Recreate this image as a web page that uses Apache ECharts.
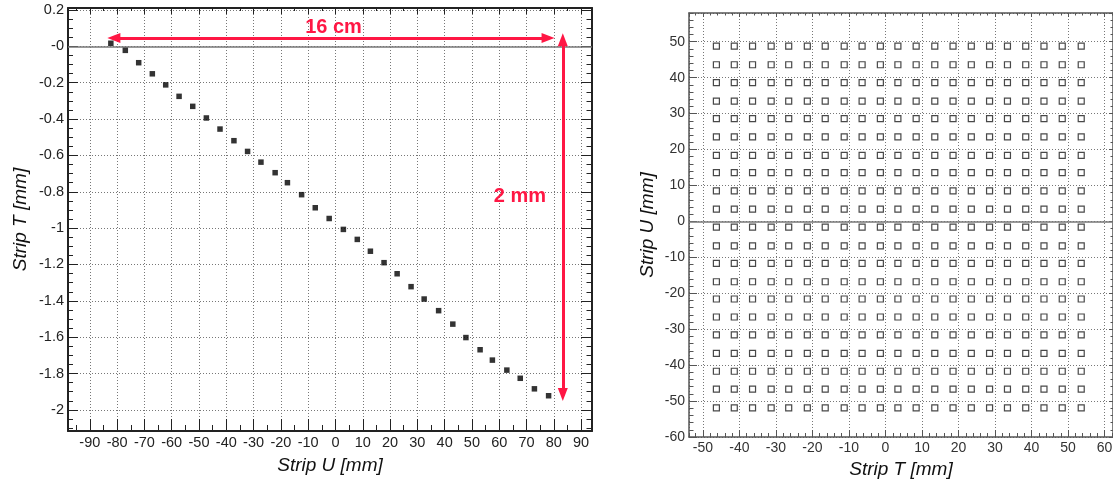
<!DOCTYPE html>
<html><head><meta charset="utf-8">
<script src="https://cdn.jsdelivr.net/npm/echarts@6/dist/echarts.min.js"></script>
<style>html,body{margin:0;padding:0;background:#fff}#c{width:1113px;height:480px}</style>
</head><body><div id="c"></div>
<script>
// ---- Left panel: Strip T vs Strip U (filled squares) ----
const stripU = [-82.3, -77.0, -72.1, -67.1, -62.2, -57.3, -52.3, -47.3, -42.3, -37.2, -32.2,
  -27.3, -22.1, -17.6, -12.4, -7.4, -2.3, 2.9, 8.0, 12.8, 17.8, 22.6, 27.7, 32.5, 37.8,
  43.0, 47.8, 53.0, 57.5, 62.8, 67.7, 72.9, 78.1];
const stripT = [0.017, -0.022, -0.090, -0.151, -0.212, -0.275, -0.330, -0.394, -0.455, -0.519, -0.578,
  -0.637, -0.695, -0.750, -0.816, -0.888, -0.947, -1.007, -1.062, -1.127, -1.190, -1.251, -1.322,
  -1.390, -1.454, -1.528, -1.602, -1.669, -1.726, -1.781, -1.826, -1.884, -1.922];

// ---- Right panel: grid of strip crossings (open squares) ----
const gridStripT = [-46.3, -41.4, -36.4, -31.3, -26.5, -21.4, -16.5, -11.3, -6.4, -1.4, 3.4,
  8.4, 13.5, 18.5, 23.5, 28.5, 33.4, 38.4, 43.4, 48.4, 53.6];
const gridStripU = [48.8, 43.6, 38.6, 33.5, 28.6, 23.5, 18.4, 13.6, 8.5, 3.4, -1.6,
  -6.8, -11.7, -16.8, -21.6, -26.6, -31.6, -36.7, -41.7, -46.7, -51.9];

const annotationTexts = ['16 cm', '2 mm'];
const axisTitles = { leftX: 'Strip U [mm]', leftY: 'Strip T [mm]', rightX: 'Strip T [mm]', rightY: 'Strip U [mm]' };

const FONT = "'Liberation Sans', Arial, Helvetica, sans-serif";
const RED = '#ff1744';

const leftPts = stripU.map((u, i) => [u, stripT[i]]);
const rightPts = [];
gridStripU.forEach(u => gridStripT.forEach(t => rightPts.push([t, u])));

function ax(p) {
  const a = {
    type: 'value', gridIndex: p.grid, position: p.pos, min: p.min, max: p.max,
    minInterval: p.step, maxInterval: p.step, splitNumber: 10,
    axisLine: { show: !!p.line, onZero: false, lineStyle: { color: p.color, width: p.lw || 1 } },
    axisTick: { show: true, inside: true, length: p.len, lineStyle: { color: p.color, width: 1 } },
    axisLabel: { show: false },
    splitLine: { show: false },
    minorTick: { show: false }, minorSplitLine: { show: false }
  };
  if (p.label) {
    a.axisLabel = Object.assign({ show: true, showMinLabel: false, showMaxLabel: false,
      fontFamily: FONT, color: '#222', hideOverlap: false }, p.label);
  }
  if (p.split) a.splitLine = { show: true, lineStyle: { color: '#777', width: 1, type: [1, 2] } };
  if (p.name) {
    a.name = p.name; a.nameLocation = 'middle'; a.nameGap = p.nameGap;
    a.nameTextStyle = { fontFamily: FONT, fontStyle: 'italic', fontSize: 19, color: '#111' };
  }
  return a;
}

const LC = '#222', RC = '#555';
const L = { xmin: -98, xmax: 94, ymin: -2.116, ymax: 0.211 };
const R = { xmin: -53.8, xmax: 62.3, ymin: -60, ymax: 58 };

const xAxes = [
  ax({ grid: 0, pos: 'bottom', min: L.xmin, max: L.xmax, step: 10, len: 12, color: LC, line: true, lw: 2, split: true,
       label: { fontSize: 14.5, margin: 4 }, name: axisTitles.leftX, nameGap: 25 }),
  ax({ grid: 0, pos: 'bottom', min: L.xmin, max: L.xmax, step: 5, len: 6, color: LC }),
  ax({ grid: 0, pos: 'top', min: L.xmin, max: L.xmax, step: 10, len: 6, color: LC, line: true, lw: 2 }),
  ax({ grid: 0, pos: 'top', min: L.xmin, max: L.xmax, step: 5, len: 3, color: LC }),
  ax({ grid: 1, pos: 'bottom', min: R.xmin, max: R.xmax, step: 10, len: 7, color: RC, line: true, lw: 1.5, split: true,
       label: { fontSize: 14, margin: 4, color: '#333' }, name: axisTitles.rightX, nameGap: 23 }),
  ax({ grid: 1, pos: 'bottom', min: R.xmin, max: R.xmax, step: 2, len: 4, color: RC }),
  ax({ grid: 1, pos: 'top', min: R.xmin, max: R.xmax, step: 10, len: 4, color: RC, line: true, lw: 1.5 }),
  ax({ grid: 1, pos: 'top', min: R.xmin, max: R.xmax, step: 2, len: 2.5, color: RC })
];
const yAxes = [
  ax({ grid: 0, pos: 'left', min: L.ymin, max: L.ymax, step: 0.2, len: 10, color: LC, line: true, lw: 2, split: true,
       label: { fontSize: 14.5, margin: 4, formatter: v => (Math.abs(v) < 1e-9 ? '-0' : String(v)) },
       name: axisTitles.leftY, nameGap: 38 }),
  ax({ grid: 0, pos: 'left', min: L.ymin, max: L.ymax, step: 0.05, len: 5, color: LC }),
  ax({ grid: 0, pos: 'right', min: L.ymin, max: L.ymax, step: 0.2, len: 11, color: LC, line: true, lw: 2 }),
  ax({ grid: 0, pos: 'right', min: L.ymin, max: L.ymax, step: 0.05, len: 5.5, color: LC }),
  ax({ grid: 1, pos: 'left', min: R.ymin, max: R.ymax, step: 10, len: 8, color: RC, line: true, lw: 1.5, split: true,
       label: { fontSize: 14, margin: 4, color: '#333', showMinLabel: true }, name: axisTitles.rightY, nameGap: 32 }),
  ax({ grid: 1, pos: 'left', min: R.ymin, max: R.ymax, step: 2, len: 4.5, color: RC }),
  ax({ grid: 1, pos: 'right', min: R.ymin, max: R.ymax, step: 10, len: 4, color: RC, line: true, lw: 1.5 }),
  ax({ grid: 1, pos: 'right', min: R.ymin, max: R.ymax, step: 2, len: 2.5, color: RC })
];

const zeroLine = (c) => ({ yAxis: 0, lineStyle: { color: c, type: 'solid', width: 1.5 } });
const tri = { symbol: 'triangle', symbolSize: [10, 13] };

const option = {
  animation: false,
  textStyle: { fontFamily: FONT },
  grid: [
    { left: 68, top: 8, width: 524, height: 423, containLabel: false, outerBoundsMode: 'none' },
    { left: 689, top: 13, width: 424, height: 424, containLabel: false, outerBoundsMode: 'none' }
  ],
  xAxis: xAxes,
  yAxis: yAxes,
  series: [
    {
      type: 'scatter', xAxisIndex: 0, yAxisIndex: 0, data: leftPts,
      symbol: 'rect', symbolSize: 5.5, itemStyle: { color: '#000' }, silent: true, z: 5,
      markLine: {
        silent: true, label: { show: false }, symbol: ['none', 'none'],
        lineStyle: { color: RED, type: 'solid', width: 3 },
        data: [
          zeroLine('#777'),
          [Object.assign({ coord: [-81.2, 0.046], lineStyle: { color: RED, type: 'solid', width: 3 } }, tri),
           Object.assign({ coord: [77.9, 0.046] }, tri)],
          [Object.assign({ coord: [83.3, 0.037], lineStyle: { color: RED, type: 'solid', width: 3 } }, tri),
           Object.assign({ coord: [83.3, -1.915] }, tri)]
        ]
      },
      markPoint: {
        silent: true, symbol: 'rect', symbolSize: 0,
        label: { show: true, position: 'inside', color: RED, fontSize: 20, fontWeight: 'bold', fontFamily: FONT,
                 formatter: p => p.name },
        data: [
          { name: annotationTexts[0], coord: [-0.7, 0.106] },
          { name: annotationTexts[1], coord: [67.6, -0.825] }
        ]
      }
    },
    {
      type: 'scatter', xAxisIndex: 4, yAxisIndex: 4, data: rightPts,
      symbol: 'rect', symbolSize: 6, silent: true, z: 5,
      itemStyle: { color: 'rgba(255,255,255,0)', borderColor: '#1a1a1a', borderWidth: 1.2 },
      markLine: { silent: true, label: { show: false }, symbol: ['none', 'none'], data: [zeroLine('#777')] }
    }
  ]
};
const chart = echarts.init(document.getElementById('c'), null, { renderer: 'canvas' });
chart.setOption(option);
</script>
</body></html>
